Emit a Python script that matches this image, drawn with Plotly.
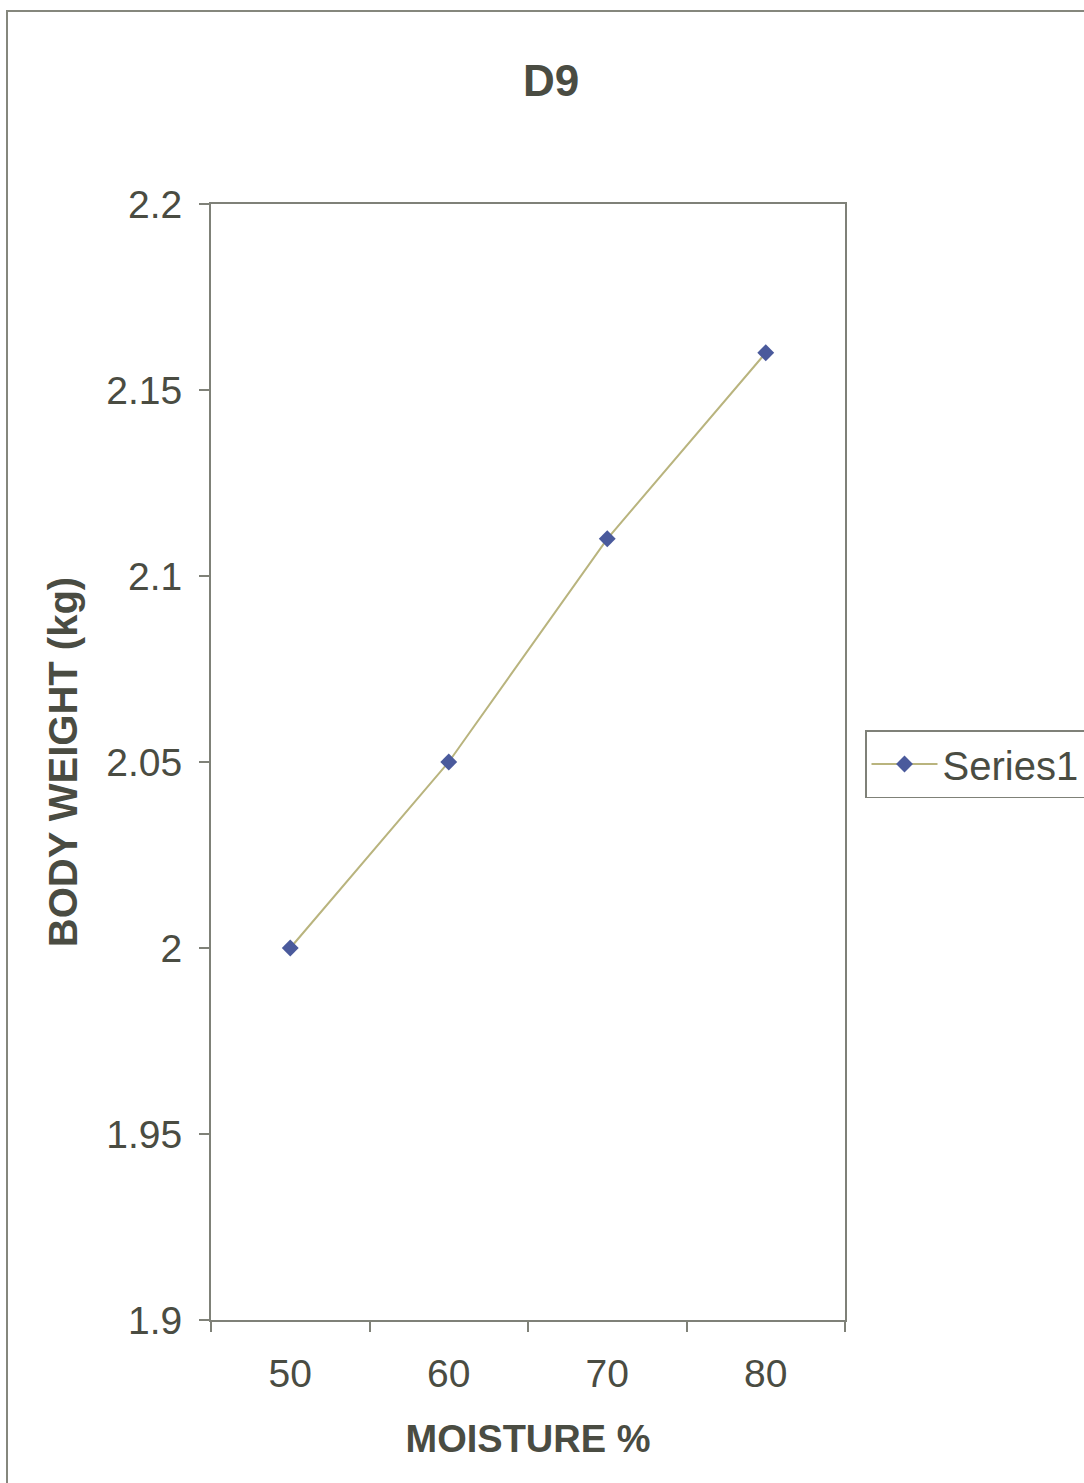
import plotly.graph_objects as go

categories = ["50", "60", "70", "80"]
body_weight = [2.00, 2.05, 2.11, 2.16]
y_tick_vals = [1.9, 1.95, 2.0, 2.05, 2.1, 2.15, 2.2]
y_tick_text = ["1.9", "1.95", "2", "2.05", "2.1", "2.15", "2.2"]

TXT = "#4a4c42"
AX = "#7f8178"
FONT = "Liberation Sans, Arial, sans-serif"

fig = go.Figure()
fig.add_trace(go.Scatter(
    x=categories, y=body_weight, mode="lines+markers", name="Series1",
    line=dict(color="#b9b47e", width=2),
    marker=dict(symbol="diamond", size=13, color="#4a5a9c"),
))

fig.update_layout(
    width=1084, height=1483,
    margin=dict(l=211, r=239, t=204, b=163, autoexpand=False),
    paper_bgcolor="white", plot_bgcolor="white",
    font=dict(family=FONT, color=TXT, size=39),
    title=dict(text="<b>D9</b>", x=(551 - 211) / 634, xref="paper", xanchor="center",
               y=1 - 81 / 1483, yanchor="middle", font=dict(size=44, color=TXT)),
    showlegend=True,
    legend=dict(x=(865 - 211) / 634, xanchor="left", y=(1320 - 764) / 1116, yanchor="middle",
                bordercolor=AX, borderwidth=1.5, bgcolor="white", itemwidth=66,
                font=dict(size=40, color=TXT)),
)
fig.update_xaxes(
    type="category", range=[-0.5, 3.5], tickson="boundaries",
    showline=True, linecolor=AX, linewidth=2, mirror=True,
    ticks="outside", ticklen=10, tickcolor=AX, tickwidth=1.5,
    showgrid=False, zeroline=False,
    tickfont=dict(size=39, color=TXT), ticklabelstandoff=18,
    title=dict(text="<b>MOISTURE %</b>", font=dict(size=38, color=TXT), standoff=32),
)
fig.update_yaxes(
    range=[1.9, 2.2], tickvals=y_tick_vals, ticktext=y_tick_text,
    showline=True, linecolor=AX, linewidth=2, mirror=True,
    ticks="outside", ticklen=10, tickcolor=AX, tickwidth=1.5,
    showgrid=False, zeroline=False,
    tickfont=dict(size=39, color=TXT), ticklabelstandoff=9,
    title=dict(text="<b>BODY WEIGHT (kg)</b>", font=dict(size=40, color=TXT), standoff=16),
)

# outer chart border (extends past right/bottom edges as in the scan)
fig.add_shape(type="rect", xref="paper", yref="paper",
              x0=(7 - 211) / 634, x1=(1110 - 211) / 634,
              y0=(1320 - 1520) / 1116, y1=(1320 - 11) / 1116,
              line=dict(color="#85877d", width=2), fillcolor="rgba(0,0,0,0)", layer="below")

fig.write_html("out.html")
